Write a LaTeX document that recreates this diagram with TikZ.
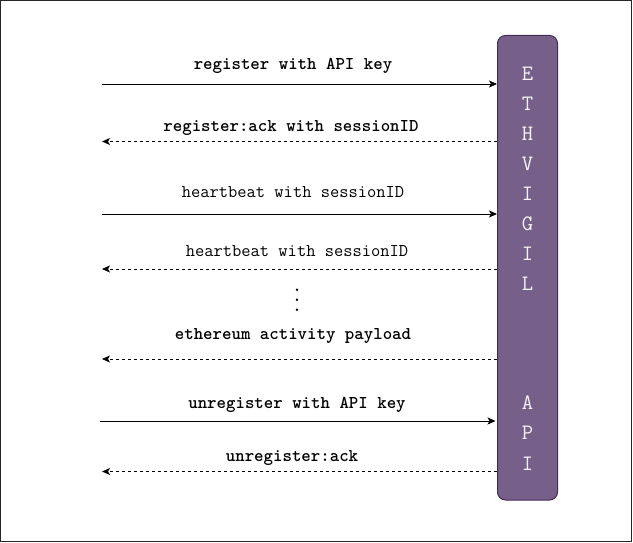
\documentclass[tikz,border=0pt]{standalone}
\usepackage{fontspec}
\usetikzlibrary{arrows.meta}
\definecolor{apifill}{HTML}{76608A}
\definecolor{apiedge}{HTML}{432D57}
\begin{document}
\begin{tikzpicture}[x=1pt,y=-1pt,
  lbl/.style={font=\fontsize{18}{20}\selectfont\ttfamily\bfseries, inner sep=0pt},
  lblr/.style={font=\fontsize{18}{20}\selectfont\ttfamily, inner sep=0pt},
  dot/.style={font=\fontsize{18}{20}\selectfont\ttfamily\bfseries, inner sep=0pt, text height=2pt, text depth=0pt},
  req/.style={draw=black, line width=0.9pt, -{Stealth[length=8pt,width=7pt,inset=2pt]}},
  rep/.style={req, dash pattern=on 3pt off 3pt},
  letters/.style={font=\fontsize{22}{30}\selectfont\ttfamily, text=white!92!apifill, align=center, inner sep=0pt}
]
\useasboundingbox (0,0) rectangle (633,543);
\draw[line width=1pt, black!85] (0.5,0.5) rectangle (631,541.5);

\node[draw=apiedge, fill=apifill, line width=1pt, rounded corners=8pt, minimum width=60pt, minimum height=464.5pt, inner sep=0pt] (api) at (527.5,267.75) {};
\node[letters] (eth) at (527.5,178.5) {E\\T\\H\\V\\I\\G\\I\\L};
\node[letters, font=\fontsize{22}{30.5}\selectfont\ttfamily] (apit) at (527.5,433) {A\\P\\I};

% start/end coordinates
\coordinate (s1) at (102,84);   \coordinate (e1) at (api.west |- s1);
\coordinate (s2) at (102,141.5); \coordinate (e2) at (api.west |- s2);
\coordinate (s3) at (102,214);  \coordinate (e3) at (api.west |- s3);
\coordinate (s4) at (102,269);  \coordinate (e4) at (api.west |- s4);
\coordinate (s5) at (102,359);  \coordinate (e5) at (api.west |- s5);
\coordinate (s6) at (100,421);  \coordinate (e6) at (495.5,421);
\coordinate (s7) at (102,471.5); \coordinate (e7) at (api.west |- s7);

\draw[req] (s1) -- (e1);
\draw[rep] (e2) -- (s2);
\draw[req] (s3) -- (e3);
\draw[rep] (e4) -- (s4);
\draw[rep] (e5) -- (s5);
\draw[req] (s6) -- (e6);
\draw[rep] (e7) -- (s7);

\node[lbl]  (l1) at (293,66)  {register with API key};
\node[lbl]  (l2) at (291,128) {register:ack with sessionID};
\node[lblr] (l3) at (293,192) {heartbeat with sessionID};
\node[lblr] (l4) at (297,251) {heartbeat with sessionID};
\node[lbl]  (l5) at (293,336) {ethereum activity payload};
\node[lbl]  (l6) at (297,405) {unregister with API key};
\node[lbl]  (l7) at (292,458) {unregister:ack};
\node[dot] (d1) at (297,290) {.};
\node[dot] (d2) at (297,300) {.};
\node[dot] (d3) at (297,310) {.};
\end{tikzpicture}
\end{document}
